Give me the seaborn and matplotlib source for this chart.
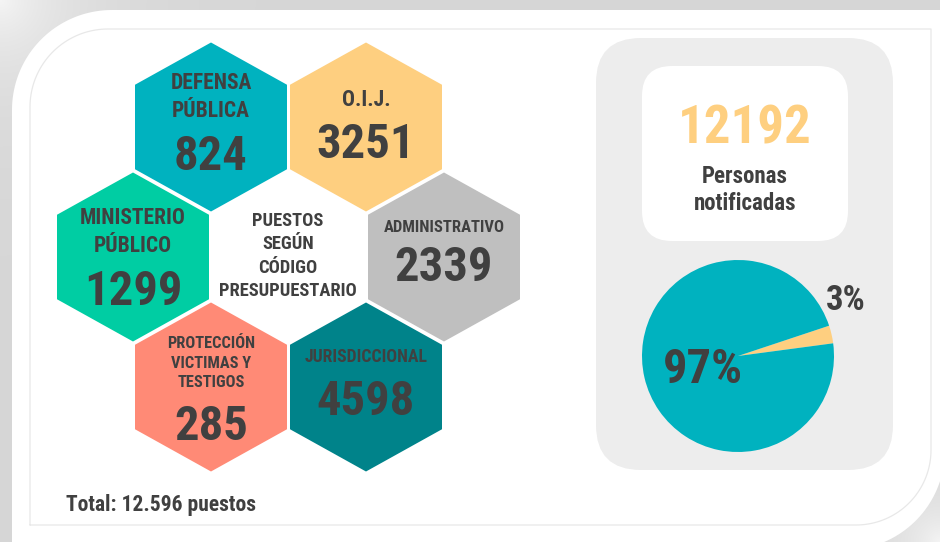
import numpy as np
import pandas as pd
import matplotlib
matplotlib.use("Agg")
import matplotlib.pyplot as plt
import seaborn as sns
from matplotlib.path import Path
from matplotlib.markers import MarkerStyle
from matplotlib.patches import FancyBboxPatch, Polygon

# ---------------- data ----------------
categorias = ["DEFENSA\nPÚBLICA", "O.I.J.", "MINISTERIO\nPÚBLICO", "ADMINISTRATIVO",
              "PROTECCIÓN\nVICTIMAS Y\nTESTIGOS", "JURISDICCIONAL"]
puestos = [824, 3251, 1299, 2339, 285, 4598]
colores_cat = ["#00B2BF", "#FECF80", "#00CDA3", "#BFBFBF", "#FF8A76", "#00838A"]
titulo_centro = "PUESTOS\nSEGÚN\nCÓDIGO\nPRESUPUESTARIO"
total_texto = "Total: 12.596 puestos"
personas = 12192
personas_texto = "Personas\nnotificadas"
pie_pct = [97, 3]
pie_colores = ["#00B2BF", "#FECF80"]

# ---------------- layout ----------------
W, H = 940, 542
hex_x = [211, 366, 133, 444, 211, 366]
hex_y = [127, 127, 257, 257, 387, 387]
label_y = [97, 100, 232, 228, 363, 357]
label_fs = [15.5, 15.5, 15.5, 12, 11.8, 12.8]
label_ls = [1.35, 1.35, 1.35, 1.35, 1.38, 1.35]
num_y = [157, 145, 292, 268, 427, 402]
num_fs = 35
HEX_HALF_W, HEX_HALF_H = 76, 84.5
TXT = "#404040"

sns.set_theme(style="white")
plt.rcParams["font.family"] = ["Roboto Condensed", "DejaVu Sans"]
plt.rcParams["font.weight"] = "bold"

fig = plt.figure(figsize=(W / 100, H / 100), dpi=100)
fig.patch.set_facecolor("white")
ax = fig.add_axes([0, 0, 1, 1])
ax.set_xlim(0, W)
ax.set_ylim(H, 0)
ax.axis("off")

# ---------- background frame ----------
yy, xx = np.mgrid[0:H, 0:W]
d_tl = np.hypot(xx, yy)
d_br = np.hypot(W - xx, H - yy)
bg = 0.84 + 0.12 * np.exp(-d_tl / 70) + 0.12 * np.exp(-d_br / 45)
bg = np.clip(bg, 0, 1)
ax.imshow(np.dstack([bg, bg, bg]), extent=(0, W, H, 0), zorder=0, interpolation="bilinear")

def arc(cx, cy, r, a0, a1, n=40):
    t = np.radians(np.linspace(a0, a1, n))
    return np.column_stack([cx + r * np.cos(t), cy - r * np.sin(t)])

card = np.vstack([
    [[12, H + 5]],
    arc(112, 110, 100, 180, 90),
    [[W + 5, 10]],
    arc(845, 450, 100, 0, -90),
])
ax.add_patch(Polygon(card, closed=True, facecolor="white", edgecolor="none", zorder=1))

inner = np.vstack([
    [[30, 525]],
    arc(108, 107, 78, 180, 90),
    [[931, 29]],
    arc(856, 450, 75, 0, -90),
    [[30, 525]],
])
ax.plot(inner[:, 0], inner[:, 1], color="#e8e8e8", lw=0.9, zorder=2)

# ---------- hexagons (seaborn scatter with a hexagon marker) ----------
hv = [(0, HEX_HALF_H), (HEX_HALF_W, HEX_HALF_H / 2), (HEX_HALF_W, -HEX_HALF_H / 2),
      (0, -HEX_HALF_H), (-HEX_HALF_W, -HEX_HALF_H / 2), (-HEX_HALF_W, HEX_HALF_H / 2),
      (0, HEX_HALF_H)]
hex_marker = MarkerStyle(Path(hv, closed=True))
msize = (2 * HEX_HALF_H * 72 / 100) ** 2

df = pd.DataFrame({"categoria": categorias, "puestos": puestos, "x": hex_x, "y": hex_y})
sns.scatterplot(data=df, x="x", y="y", hue="categoria",
                palette=dict(zip(categorias, colores_cat)),
                marker=hex_marker, s=msize, linewidth=0, edgecolor="none",
                legend=False, ax=ax, zorder=3)
ax.set_xlim(0, W)
ax.set_ylim(H, 0)
ax.axis("off")

for i, row in df.iterrows():
    ax.text(row.x, label_y[i], row.categoria, ha="center", va="center",
            multialignment="center", fontsize=label_fs[i], color=TXT,
            linespacing=label_ls[i], zorder=4)
    ax.text(row.x, num_y[i], f"{row.puestos}", ha="center", va="center",
            fontsize=num_fs, color=TXT, zorder=4)

ax.text(288, 256, titulo_centro, ha="center", va="center", multialignment="center",
        fontsize=13.3, color=TXT, linespacing=1.36, zorder=4)
ax.text(66, 505, total_texto, ha="left", va="center", fontsize=15.5, color=TXT, zorder=4)

# ---------- right panel ----------
ax.add_patch(FancyBboxPatch((596, 38), 297, 432, boxstyle="round,pad=0,rounding_size=45",
                            facecolor="#EDEDED", edgecolor="none", zorder=2))
ax.add_patch(FancyBboxPatch((642, 66), 206, 175, boxstyle="round,pad=0,rounding_size=30",
                            facecolor="white", edgecolor="none", zorder=3))
ax.text(745, 129, f"{personas}", ha="center", va="center", fontsize=38,
        color=pie_colores[1], zorder=4)
ax.text(745, 190, personas_texto, ha="center", va="center", multialignment="center",
        fontsize=16.5, color=TXT, linespacing=1.2, zorder=4)

# ---------- pie ----------
pcx, pcy, pr = 738, 356, 96
ax_pie = fig.add_axes([(pcx - pr) / W, (H - (pcy + pr)) / H, 2 * pr / W, 2 * pr / H])
ax_pie.pie(pie_pct[::-1], colors=pie_colores[::-1], startangle=7.6, counterclock=True,
           wedgeprops=dict(linewidth=0))
ax_pie.set_xlim(-1, 1)
ax_pie.set_ylim(-1, 1)
ax_pie.set_aspect("equal")
ax_pie.axis("off")
ax_pie.patch.set_alpha(0)

ax_pie.text(703, 370, f"{pie_pct[0]}%", ha="center", va="center", fontsize=35, color=TXT,
            transform=ax.transData, clip_on=False, zorder=5)
ax_pie.text(846, 300, f"{pie_pct[1]}%", ha="center", va="center", fontsize=25, color=TXT,
            transform=ax.transData, clip_on=False, zorder=5)

fig.savefig("out.png", dpi=100, facecolor="white")
